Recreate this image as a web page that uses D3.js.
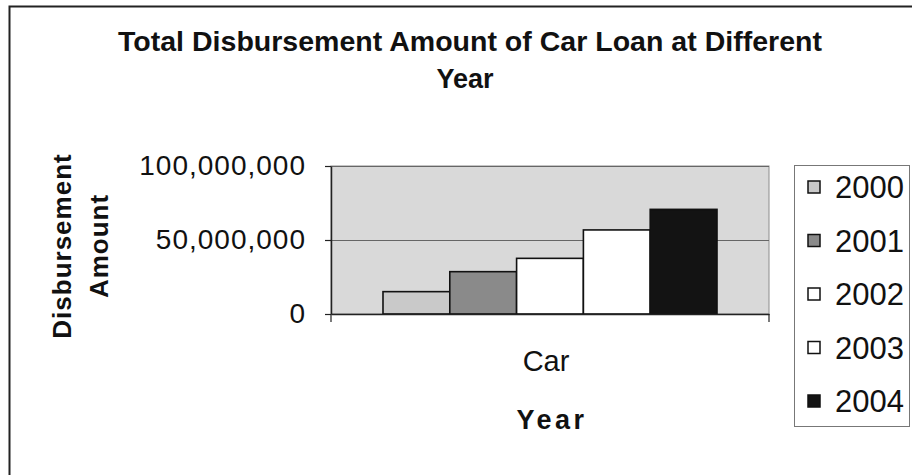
<!DOCTYPE html>
<html>
<head>
<meta charset="utf-8">
<script src="https://cdn.jsdelivr.net/npm/d3@7"></script>
<style>
  body { margin: 0; background: #fff; }
  svg { display: block; font-family: "Liberation Sans", Arial, sans-serif; }
</style>
</head>
<body>
<svg id="chart" width="912" height="475"></svg>
<script>
// data
var categories = ["Car"];
var years = ["2000", "2001", "2002", "2003", "2004"];
var amounts = [15100000, 28600000, 37600000, 56800000, 70700000];
var yTicks = [0, 50000000, 100000000];
var barColors = ["#c9c9c9", "#8a8a8a", "#ffffff", "#ffffff", "#131313"];

var svg = d3.select("#chart");

var plot = { left: 331, right: 769, top: 166, bottom: 314 };

//Outer frame (only top and left edge show)
svg.append("path")
    .attr("d", "M9.5,475V6.5H912")
    .attr("fill", "none")
    .attr("stroke", "#222")
    .attr("stroke-width", 2);

//Title
svg.append("text")
    .attr("x", 470)
    .attr("y", 51)
    .attr("text-anchor", "middle")
    .attr("font-size", 27)
    .attr("font-weight", "bold")
    .attr("fill", "#111")
    .attr("textLength", 704)
    .attr("lengthAdjust", "spacingAndGlyphs")
    .text("Total Disbursement Amount of Car Loan at Different");

svg.append("text")
    .attr("x", 465)
    .attr("y", 88)
    .attr("text-anchor", "middle")
    .attr("font-size", 27)
    .attr("font-weight", "bold")
    .attr("fill", "#111")
    .text("Year");

//Scales
var y = d3.scaleLinear()
    .domain([0, 100000000])
    .range([plot.bottom, plot.top]);

var x0 = d3.scaleBand()
    .domain(categories)
    .range([plot.left, plot.right])
    .padding(0.1347);

var x1 = d3.scaleBand()
    .domain(years)
    .range([0, x0.bandwidth()]);

//Plot area background
svg.append("rect")
    .attr("x", plot.left)
    .attr("y", plot.top)
    .attr("width", plot.right - plot.left)
    .attr("height", plot.bottom - plot.top)
    .attr("fill", "#d9d9d9")
    .attr("stroke", "#8c8c8c")
    .attr("stroke-width", 1);

//Gridlines
svg.append("g")
    .selectAll("line")
    .data(yTicks.filter(function(d) { return d > 0; }))
    .enter().append("line")
      .attr("x1", plot.left)
      .attr("x2", plot.right)
      .attr("y1", function(d) { return y(d) + 0.5; })
      .attr("y2", function(d) { return y(d) + 0.5; })
      .attr("stroke", "#666")
      .attr("stroke-width", 1);

//Bars
svg.append("g")
    .selectAll("g")
    .data(categories)
    .enter().append("g")
      .attr("transform", function(d) { return "translate(" + x0(d) + ",0)"; })
    .selectAll("rect")
    .data(function() {
      return years.map(function(yr, i) { return { year: yr, value: amounts[i], color: barColors[i] }; });
    })
    .enter().append("rect")
      .attr("x", function(d) { return x1(d.year); })
      .attr("y", function(d) { return y(d.value); })
      .attr("width", x1.bandwidth())
      .attr("height", function(d) { return y(0) - y(d.value); })
      .attr("fill", function(d) { return d.color; })
      .attr("stroke", "#111")
      .attr("stroke-width", 1.6);

//Y axis
var yAxis = svg.append("g")
    .attr("transform", "translate(" + plot.left + ",0)")
    .call(d3.axisLeft(y)
      .tickValues(yTicks)
      .tickFormat(d3.format(","))
      .tickSize(6)
      .tickSizeOuter(0)
      .tickPadding(19));

yAxis.selectAll("text")
    .attr("font-size", 28)
    .attr("letter-spacing", 1)
    .attr("fill", "#111");
yAxis.selectAll("line").attr("stroke", "#222").attr("stroke-width", 1.2);
yAxis.select(".domain").attr("stroke", "#222").attr("stroke-width", 1.5);

//X axis
var xAxis = svg.append("g")
    .attr("transform", "translate(0," + plot.bottom + ")")
    .call(d3.axisBottom(x0)
      .tickSize(0)
      .tickSizeOuter(0)
      .tickPadding(36));

xAxis.selectAll("text")
    .attr("font-size", 29)
    .attr("dx", -4)
    .attr("fill", "#111");
xAxis.select(".domain").attr("stroke", "#222").attr("stroke-width", 1.5);

//category boundary ticks
xAxis.selectAll(".edge")
    .data(x0.range())
    .enter().append("line")
      .attr("class", "edge")
      .attr("x1", function(d) { return d; })
      .attr("x2", function(d) { return d; })
      .attr("y1", 0)
      .attr("y2", 8)
      .attr("stroke", "#222")
      .attr("stroke-width", 1.2);

//Axis titles
svg.append("text")
    .attr("x", 552)
    .attr("y", 429)
    .attr("text-anchor", "middle")
    .attr("font-size", 27)
    .attr("font-weight", "bold")
    .attr("letter-spacing", 3.5)
    .attr("fill", "#111")
    .text("Year");

var yTitle = svg.append("text")
    .attr("transform", "translate(0,246) rotate(-90)")
    .attr("text-anchor", "middle")
    .attr("font-size", 26)
    .attr("font-weight", "bold")
    .attr("letter-spacing", 1)
    .attr("fill", "#111");

yTitle.append("tspan").attr("x", 0).attr("y", 71).text("Disbursement");
yTitle.append("tspan").attr("x", 0).attr("y", 108).text("Amount");

//Legend
var legend = svg.append("g");

legend.append("rect")
    .attr("x", 794.5)
    .attr("y", 165.5)
    .attr("width", 115)
    .attr("height", 261)
    .attr("fill", "#fff")
    .attr("stroke", "#777")
    .attr("stroke-width", 1);

var item = legend.selectAll(".item")
    .data(years)
    .enter().append("g")
      .attr("class", "item")
      .attr("transform", function(d, i) { return "translate(808," + (187 + i * 53.5) + ")"; });

item.append("rect")
    .attr("x", 0)
    .attr("y", -6)
    .attr("width", 12)
    .attr("height", 12)
    .attr("fill", function(d, i) { return barColors[i]; })
    .attr("stroke", "#111")
    .attr("stroke-width", 1.5);

item.append("text")
    .attr("x", 27)
    .attr("dy", "0.36em")
    .attr("font-size", 31)
    .attr("fill", "#111")
    .text(function(d) { return d; });
</script>
</body>
</html>
